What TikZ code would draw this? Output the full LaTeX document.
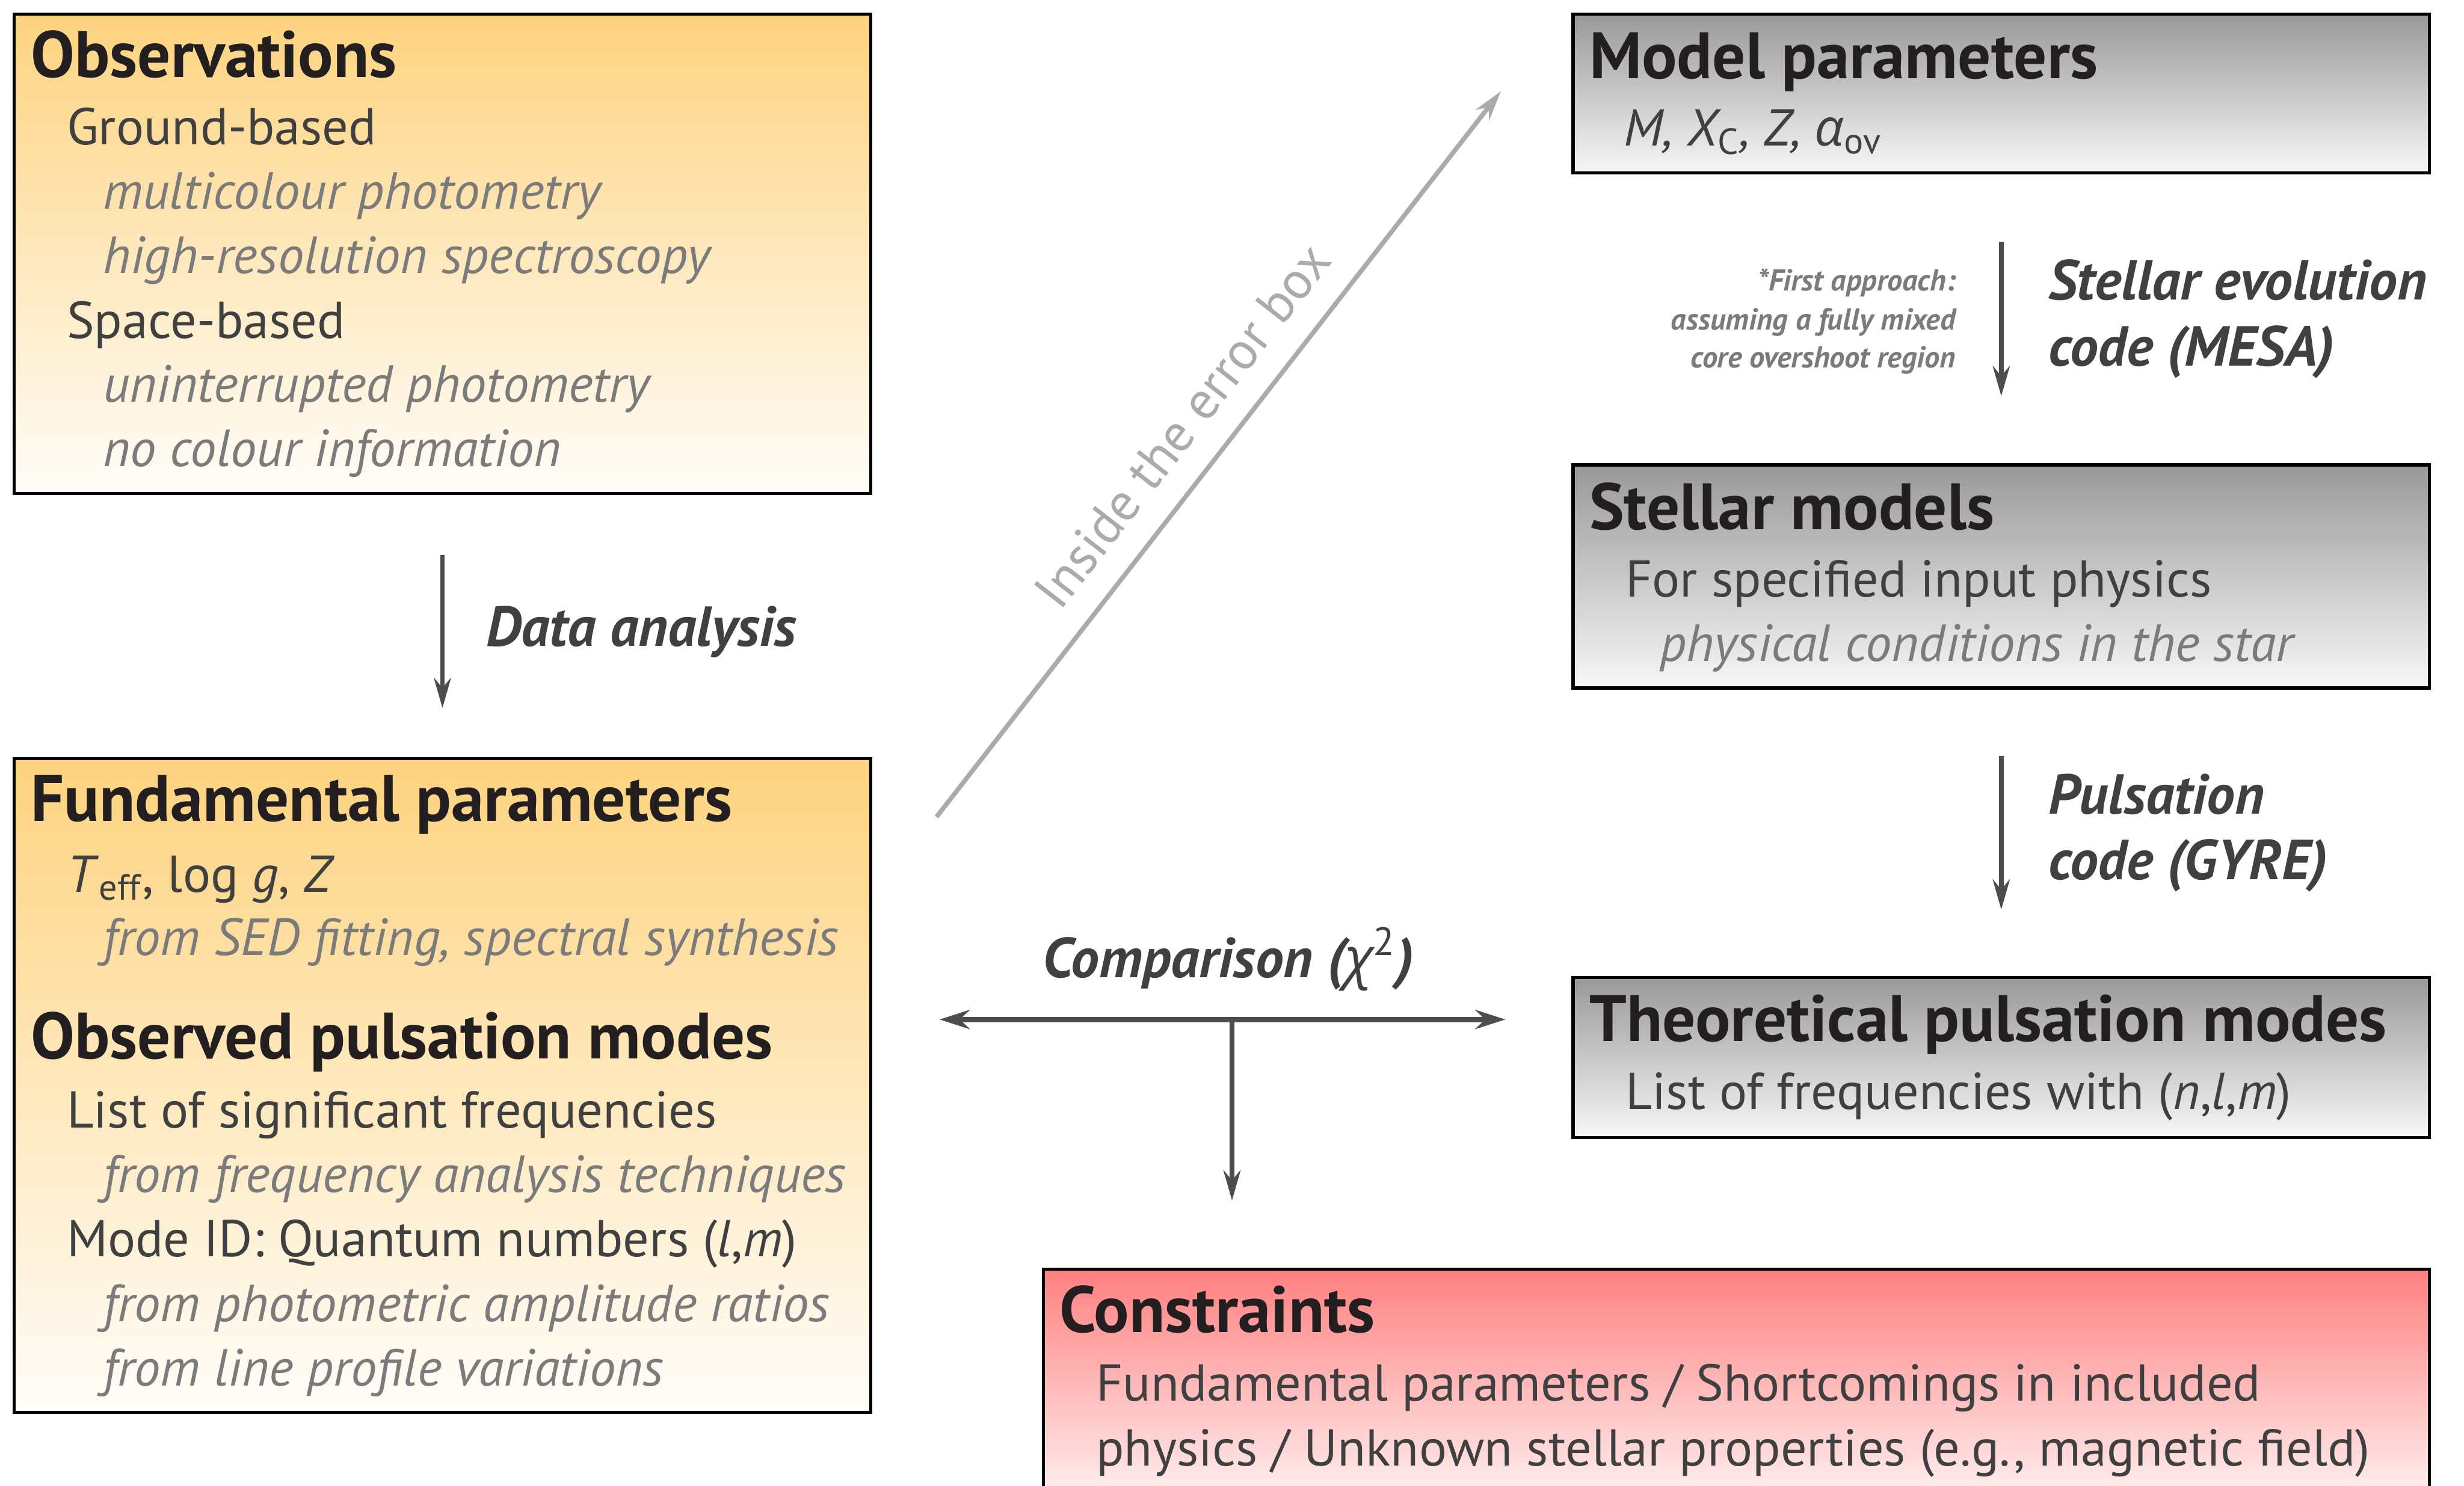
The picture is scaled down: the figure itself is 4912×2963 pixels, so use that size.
\documentclass[tikz,border=0pt]{standalone}
\usepackage{fontspec}
\setmainfont{PT Sans}
\newfontfamily\grk{Open Sans}
\usetikzlibrary{arrows.meta, positioning, fit}

\definecolor{obsTop}{HTML}{FDD37F}
\definecolor{obsBot}{HTML}{FFFDF9}
\definecolor{modTop}{HTML}{999999}
\definecolor{modBot}{HTML}{F7F7F7}
\definecolor{conTop}{HTML}{FF8080}
\definecolor{conBot}{HTML}{FFF6F6}
\definecolor{headC}{HTML}{231F20}
\definecolor{oneC}{HTML}{404040}
\definecolor{twoC}{HTML}{7B7B7B}
\definecolor{arrC}{HTML}{4D4D4D}
\definecolor{errC}{HTML}{ABABAB}

\begin{document}
\begin{tikzpicture}[x=0.05mm, y=-0.05mm]
        % 样式
        \tikzstyle{box} = [draw=black, line width=0.9pt, inner sep=0pt]
        \tikzstyle{obsbox} = [box, top color=obsTop, bottom color=obsBot]
        \tikzstyle{modbox} = [box, top color=modTop, bottom color=modBot]
        \tikzstyle{conbox} = [box, top color=conTop, bottom color=conBot]
        \tikzstyle{hd} = [anchor=base west, inner sep=0pt, text=headC, font=\bfseries\fontsize{18.6}{18.6}\selectfont]
        \tikzstyle{lone} = [anchor=base west, inner sep=0pt, text=oneC, font=\fontsize{14.7}{14.7}\selectfont]
        \tikzstyle{ltwo} = [anchor=base west, inner sep=0pt, text=twoC, font=\itshape\fontsize{14.8}{14.8}\selectfont]
        \tikzstyle{lab} = [anchor=base west, inner sep=0pt, text=oneC, font=\bfseries\itshape\fontsize{16}{16}\selectfont]
        \tikzstyle{note} = [anchor=base east, inner sep=0pt, text=twoC, font=\bfseries\itshape\fontsize{8.6}{8.6}\selectfont]
        \tikzstyle{tip} = [-{Stealth[length=3mm, width=1.7mm, inset=1mm]}]
        \tikzstyle{arr} = [draw=arrC, line width=1.3pt, tip]

        \clip (0,0) rectangle (4912,2963);

        % 左侧方框
        \node[obsbox, fit={(28,28) (1736,984)}] (obs) {};
        \node[hd] (obsH) at (60,154) {Observations};
        \node[lone] (obs1) at (132,288) {Ground-based};
        \node[ltwo] (obs2) at (204,417) {multicolour photometry};
        \node[ltwo] (obs3) at (204,545) {high-resolution spectroscopy};
        \node[lone] (obs4) at (132,674) {Space-based};
        \node[ltwo] (obs5) at (204,802) {uninterrupted photometry};
        \node[ltwo] (obs6) at (204,930) {no colour information};

        \node[obsbox, fit={(28,1513) (1736,2816)}] (fund) {};
        \node[hd] (fundH) at (60,1638) {Fundamental parameters};
        \node[lone] (fund1) at (132,1779) {\textit{T}\textsubscript{eff}, log \textit{g}, \textit{Z}};
        \node[ltwo] (fund2) at (204,1905) {from SED fitting, spectral synthesis};
        \node[hd] (puls) at (60,2111) {Observed pulsation modes};
        \node[lone] (puls1) at (132,2249) {List of significant frequencies};
        \node[ltwo] (puls2) at (204,2378) {from frequency analysis techniques};
        \node[lone] (puls3) at (132,2506) {Mode ID: Quantum numbers (\textit{l},\textit{m})};
        \node[ltwo] (puls4) at (204,2635) {from photometric amplitude ratios};
        \node[ltwo] (puls5) at (204,2763) {from line profile variations};

        % 右侧方框
        \node[modbox, fit={(3136,28) (4843,345)}] (model) {};
        \node[hd] (modelH) at (3167,157) {Model parameters};
        \node[lone, font=\itshape\fontsize{14.7}{14.7}\selectfont] (model1) at (3236,291)
            {M, X\textsubscript{\upshape C}, Z, {\grk α}\textsubscript{\upshape ov}};

        \node[modbox, fit={(3136,927) (4843,1372)}] (stel) {};
        \node[hd] (stelH) at (3167,1056) {Stellar models};
        \node[lone] (stel1) at (3239,1190) {For specified input physics};
        \node[ltwo] (stel2) at (3308,1319) {physical conditions in the star};

        \node[modbox, fit={(3136,1949) (4843,2268)}] (theo) {};
        \node[hd] (theoH) at (3167,2077) {Theoretical pulsation modes};
        \node[lone] (theo1) at (3239,2212) {List of frequencies with (\textit{n},\textit{l},\textit{m})};

        \node[conbox, fit={(2080,2531) (4843,3010)}] (cons) {};
        \node[hd] (consH) at (2111,2657) {Constraints};
        \node[lone] (cons1) at (2184,2794) {Fundamental parameters / Shortcomings in included};
        \node[lone] (cons2) at (2184,2923) {physics / Unknown stellar properties (e.g., magnetic field)};

        % 标注
        \node[lab] (dataL) at (968,1288) {Data analysis};
        \node[lab] (mesaL) at (4082,598) {Stellar evolution};
        \node[lab] (mesaL2) at (4082,730) {code (MESA)};
        \node[lab] (gyreL) at (4082,1623) {Pulsation};
        \node[lab] (gyreL2) at (4082,1754) {code (GYRE)};
        \node[lab] (cmpL) at (2077,1949) {Comparison ({\grk\mdseries\itshape χ}\textsuperscript{\mdseries\upshape 2})};
        \node[note] (note1) at (3900,580) {*First approach:};
        \node[note] (note2) at (3900,658) {assuming a fully mixed};
        \node[note] (note3) at (3900,733) {core overshoot region};

        % 连线
        \coordinate (cmpA) at (1873,2033);
        \coordinate (cmpB) at (3001,2033);
        \coordinate (cmpM) at (2456,2033);
        \coordinate (errA) at (1867,1629);
        \coordinate (errB) at (2992,182);
        \draw[arr, shorten <=6mm, shorten >=4.9mm] (obs.south) -- (fund.north);
        \draw[arr, shorten <=6.7mm, shorten >=6.7mm] (model.south) -- (stel.north);
        \draw[arr, shorten <=6.6mm, shorten >=6.6mm] (stel.south) -- (theo.north);
        \draw[arr, line width=1.5pt, {Stealth[length=3mm, width=1.9mm, inset=1mm]}-{Stealth[length=3mm, width=1.9mm, inset=1mm]}] (cmpA) -- (cmpB);
        \draw[arr, shorten >=6.7mm] (cmpM) -- (cmpM |- cons.north);
        \draw[draw=errC, line width=1.3pt, tip] (errA) -- (errB)
            node[midway, sloped, above=2.5mm, inner sep=0pt, text=errC, font=\fontsize{15}{15}\selectfont] (errT) {Inside the error box};
\end{tikzpicture}
\end{document}
